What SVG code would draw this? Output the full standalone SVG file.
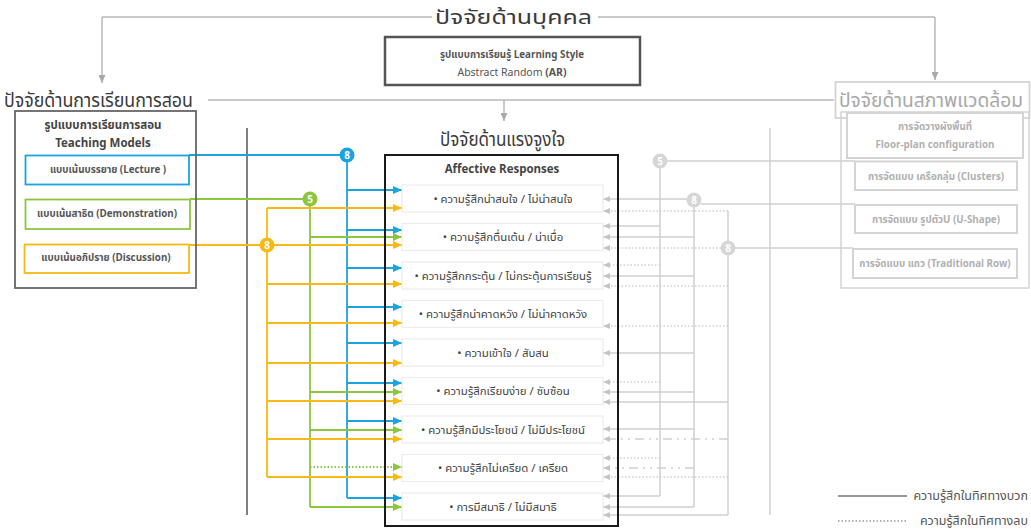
<svg xmlns="http://www.w3.org/2000/svg" width="1031" height="529" viewBox="0 0 1031 529">
<style>
text{font-family:"Noto Sans Thai","Noto Sans","DejaVu Sans",sans-serif}
.h1{font-size:19px;fill:#3a3a3a}
.h1g{font-size:19px;fill:#a8a8a8}
.b{font-size:11.5px;font-weight:bold;fill:#444}
.s{font-size:9.8px;font-weight:bold;fill:#555}
.sg{font-size:9.8px;font-weight:bold;fill:#b0b0b0}
.item{font-size:11.4px;fill:#444}
.leg{font-size:12.5px;fill:#555}
.num{font-size:10px;font-weight:bold;fill:#fff}
.gl{fill:none;stroke:#b8b8b8;stroke-width:1.5}
.lg{fill:none;stroke:#cfcfcf;stroke-width:1.5}
.dot{stroke-dasharray:1.5 2}
.dd{stroke-dasharray:9 5 2 5 2 5}
.blue{fill:none;stroke:#1ba3e0;stroke-width:1.8}
.green{fill:none;stroke:#8cc63f;stroke-width:1.8}
.yel{fill:none;stroke:#f8b912;stroke-width:1.8}
.itembox{fill:#fff;stroke:#ececec;stroke-width:1.2}
</style>
<defs>
<marker id="ab" markerWidth="9" markerHeight="8" refX="9" refY="4" orient="auto" markerUnits="userSpaceOnUse"><path d="M0,0L9,4L0,8z" fill="#1ba3e0"/></marker>
<marker id="ag" markerWidth="9" markerHeight="8" refX="9" refY="4" orient="auto" markerUnits="userSpaceOnUse"><path d="M0,0L9,4L0,8z" fill="#8cc63f"/></marker>
<marker id="ay" markerWidth="9" markerHeight="8" refX="9" refY="4" orient="auto" markerUnits="userSpaceOnUse"><path d="M0,0L9,4L0,8z" fill="#f8b912"/></marker>
<marker id="ar" markerWidth="7" markerHeight="6" refX="7" refY="3" orient="auto" markerUnits="userSpaceOnUse"><path d="M0,0L7,3L0,6z" fill="#c4c4c4"/></marker>
<marker id="ak" markerWidth="8" markerHeight="7" refX="8" refY="3.5" orient="auto" markerUnits="userSpaceOnUse"><path d="M0,0L8,3.5L0,7z" fill="#aaa"/></marker>
</defs>
<rect width="1031" height="529" fill="#fff"/>

<g id="connectors">
  <path class="gl" d="M102,17H432M598,17H935"/>
  <path class="gl" d="M102,17V83" marker-end="url(#ak)"/>
  <path class="gl" d="M935,17V80" marker-end="url(#ak)"/>
  <path class="gl" d="M208,100H834"/>
  <path class="gl" d="M504,100V121" marker-end="url(#ak)"/>
  <path d="M247,128V515" stroke="#555" stroke-width="1.5" fill="none"/>
  <path d="M770,128V515" stroke="#d0d0d0" stroke-width="1.5" fill="none"/>

  <!-- blue -->
  <path class="blue" d="M189,155H340M347,162V498"/>
  <g class="blue">
    <path d="M347,190H402" marker-end="url(#ab)"/>
    <path d="M347,230H402" marker-end="url(#ab)"/>
    <path d="M347,268H402" marker-end="url(#ab)"/>
    <path d="M347,307H402" marker-end="url(#ab)"/>
    <path d="M347,343H402" marker-end="url(#ab)"/>
    <path d="M347,383H402" marker-end="url(#ab)"/>
    <path d="M347,421H402" marker-end="url(#ab)"/>
    <path d="M347,498H402" marker-end="url(#ab)"/>
  </g>
  <!-- green -->
  <path class="green" d="M190,199H303M310,206V507"/>
  <g class="green">
    <path d="M310,237H402" marker-end="url(#ag)"/>
    <path d="M310,392H402" marker-end="url(#ag)"/>
    <path d="M310,430H402" marker-end="url(#ag)"/>
    <path d="M310,467H402" marker-end="url(#ag)" stroke-dasharray="1.5 2"/>
    <path d="M310,507H402" marker-end="url(#ag)"/>
  </g>
  <!-- yellow -->
  <path class="yel" d="M189,245H260M267,208V477"/>
  <g class="yel">
    <path d="M267,208H402" marker-end="url(#ay)"/>
    <path d="M274,245H402" marker-end="url(#ay)"/>
    <path d="M267,284H402" marker-end="url(#ay)"/>
    <path d="M267,323H402" marker-end="url(#ay)"/>
    <path d="M267,363H402" marker-end="url(#ay)"/>
    <path d="M267,401H402" marker-end="url(#ay)"/>
    <path d="M267,439H402" marker-end="url(#ay)"/>
    <path d="M267,477H402" marker-end="url(#ay)"/>
  </g>

  <!-- gray right -->
  <path class="lg" d="M667,161H855M660,168V496"/>
  <path class="lg" d="M701,204H855M694,207V507"/>
  <path class="lg" d="M735,248H853M728,211V515"/>
  <g class="lg">
    <path d="M660,226H603" marker-end="url(#ar)"/>
    <path class="dot" d="M660,265H603" marker-end="url(#ar)"/>
    <path class="dot" d="M660,382H603" marker-end="url(#ar)"/>
    <path class="dot" d="M660,458H603" marker-end="url(#ar)"/>
    <path d="M660,496H603" marker-end="url(#ar)"/>

    <path d="M687,199H603" marker-end="url(#ar)"/>
    <path d="M694,237H603" marker-end="url(#ar)"/>
    <path d="M694,276H603" marker-end="url(#ar)"/>
    <path d="M694,353H603" marker-end="url(#ar)"/>
    <path d="M694,392H603" marker-end="url(#ar)"/>
    <path d="M694,429H603" marker-end="url(#ar)"/>
    <path class="dd" d="M694,468H603" marker-end="url(#ar)"/>
    <path d="M694,507H603" marker-end="url(#ar)"/>

    <path class="dot" d="M728,211H603" marker-end="url(#ar)"/>
    <path class="dot" d="M721,248H603" marker-end="url(#ar)"/>
    <path class="dot" d="M728,286H603" marker-end="url(#ar)"/>
    <path class="dot" d="M728,326H603" marker-end="url(#ar)"/>
    <path d="M728,402H603" marker-end="url(#ar)"/>
    <path class="dd" d="M728,439H603" marker-end="url(#ar)"/>
    <path class="dot" d="M728,477H603" marker-end="url(#ar)"/>
    <path d="M728,515H603" marker-end="url(#ar)"/>
  </g>

  <circle cx="347" cy="155" r="7.5" fill="#1ba3e0"/>
  <text class="num" x="347" y="158.5" text-anchor="middle">8</text>
  <circle cx="310" cy="199" r="7.5" fill="#8cc63f"/>
  <text class="num" x="310" y="202.5" text-anchor="middle">5</text>
  <circle cx="267" cy="245" r="7.5" fill="#f8b912"/>
  <text class="num" x="267" y="248.5" text-anchor="middle">8</text>
  <circle cx="660" cy="161" r="7.5" fill="#d6d6d6"/>
  <text class="num" x="660" y="164.5" text-anchor="middle">5</text>
  <circle cx="694" cy="200" r="7.5" fill="#d6d6d6"/>
  <text class="num" x="694" y="203.5" text-anchor="middle">8</text>
  <circle cx="728" cy="248" r="7.5" fill="#d6d6d6"/>
  <text class="num" x="728" y="251.5" text-anchor="middle">8</text>
</g>

<g id="personal">
  <text class="h1" x="435" y="24" textLength="157" lengthAdjust="spacingAndGlyphs">ปัจจัยด้านบุคคล</text>
</g>
<g id="learning-style">
  <rect x="385" y="37" width="255" height="48" fill="#fff" stroke="#555" stroke-width="2.5"/>
  <text class="s" x="512" y="58" text-anchor="middle" font-size="10.5">รูปแบบการเรียนรู้ Learning Style</text>
  <text x="512" y="76" text-anchor="middle" font-size="10.5" fill="#555">Abstract Random  <tspan font-weight="bold">(AR)</tspan></text>
</g>

<g id="teaching">
  <text class="h1" x="4" y="107" textLength="189" lengthAdjust="spacingAndGlyphs">ปัจจัยด้านการเรียนการสอน</text>
  <rect x="15" y="111" width="181" height="177" fill="none" stroke="#666" stroke-width="1.8"/>
  <text class="b" x="103" y="129" text-anchor="middle">รูปแบบการเรียนการสอน</text>
  <text class="b" x="103" y="147" text-anchor="middle">Teaching Models</text>
</g>
<g id="lecture">
  <rect x="25.5" y="155.5" width="163.5" height="29" fill="none" stroke="#1ba3e0" stroke-width="1.8"/>
  <text class="s" x="108" y="173" text-anchor="middle">แบบเน้นบรรยาย (Lecture )</text>
</g>
<g id="demonstration">
  <rect x="25.5" y="199.5" width="164.5" height="29.5" fill="none" stroke="#8cc63f" stroke-width="1.8"/>
  <text class="s" x="107" y="217" text-anchor="middle">แบบเน้นสาธิต (Demonstration)</text>
</g>
<g id="discussion">
  <rect x="24.5" y="244.5" width="164.5" height="28.5" fill="none" stroke="#f8b912" stroke-width="1.8"/>
  <text class="s" x="106" y="261" text-anchor="middle">แบบเน้นอภิปราย (Discussion)</text>
</g>

<g id="environment">
  <rect x="835.5" y="82" width="194" height="36" fill="#fff" stroke="#d4d4d4" stroke-width="1.8"/>
  <text class="h1g" x="839" y="107" textLength="184" lengthAdjust="spacingAndGlyphs">ปัจจัยด้านสภาพแวดล้อม</text>
  <rect x="841" y="112" width="188" height="176" fill="none" stroke="#d4d4d4" stroke-width="1.5"/>
  <rect x="847" y="113" width="176" height="45" fill="#fff" stroke="#d4d4d4" stroke-width="2"/>
  <text class="sg" x="935" y="130" text-anchor="middle">การจัดวางผังพื้นที่</text>
  <text class="sg" x="935" y="148" text-anchor="middle">Floor-plan configuration</text>
</g>
<g id="clusters">
  <rect x="855" y="161.5" width="162" height="28.5" fill="#fff" stroke="#d4d4d4" stroke-width="2"/>
  <text class="sg" x="936" y="179.5" text-anchor="middle">การจัดแบบ เครือกลุ่ม (Clusters)</text>
</g>
<g id="ushape">
  <rect x="855" y="205" width="162" height="28" fill="#fff" stroke="#d4d4d4" stroke-width="2"/>
  <text class="sg" x="936" y="223" text-anchor="middle">การจัดแบบ รูปตัวU (U-Shape)</text>
</g>
<g id="row">
  <rect x="853" y="249" width="164" height="29" fill="#fff" stroke="#d4d4d4" stroke-width="2"/>
  <text class="sg" x="935" y="267" text-anchor="middle">การจัดแบบ แถว (Traditional Row)</text>
</g>

<g id="motivation">
  <text class="h1" x="440" y="146" textLength="125" lengthAdjust="spacingAndGlyphs">ปัจจัยด้านแรงจูงใจ</text>
  <rect x="385" y="155" width="233" height="371" fill="none" stroke="#1a1a1a" stroke-width="2"/>
  <text class="b" x="502" y="173" text-anchor="middle" fill="#555">Affective Responses</text>
</g>
<g id="item1"><rect class="itembox" x="402" y="185" width="201" height="27"/><text class="item" x="503" y="202.5" text-anchor="middle">• ความรู้สึกน่าสนใจ / ไม่น่าสนใจ</text></g>
<g id="item2"><rect class="itembox" x="402" y="223.5" width="201" height="27"/><text class="item" x="503" y="241" text-anchor="middle">• ความรู้สึกตื่นเต้น / น่าเบื่อ</text></g>
<g id="item3"><rect class="itembox" x="402" y="262" width="201" height="27"/><text class="item" x="503" y="279.5" text-anchor="middle">• ความรู้สึกกระตุ้น / ไม่กระตุ้นการเรียนรู้</text></g>
<g id="item4"><rect class="itembox" x="402" y="300.5" width="201" height="27"/><text class="item" x="503" y="318" text-anchor="middle">• ความรู้สึกน่าคาดหวัง / ไม่น่าคาดหวัง</text></g>
<g id="item5"><rect class="itembox" x="402" y="339" width="201" height="27"/><text class="item" x="503" y="356.5" text-anchor="middle">• ความเข้าใจ / สับสน</text></g>
<g id="item6"><rect class="itembox" x="402" y="377.5" width="201" height="27"/><text class="item" x="503" y="395" text-anchor="middle">• ความรู้สึกเรียบง่าย / ซับซ้อน</text></g>
<g id="item7"><rect class="itembox" x="402" y="416" width="201" height="27"/><text class="item" x="503" y="433.5" text-anchor="middle">• ความรู้สึกมีประโยชน์ / ไม่มีประโยชน์</text></g>
<g id="item8"><rect class="itembox" x="402" y="454.5" width="201" height="27"/><text class="item" x="503" y="472" text-anchor="middle">• ความรู้สึกไม่เครียด / เครียด</text></g>
<g id="item9"><rect class="itembox" x="402" y="493" width="201" height="27"/><text class="item" x="503" y="510.5" text-anchor="middle">• การมีสมาธิ / ไม่มีสมาธิ</text></g>

<g id="legend">
  <path d="M838,496H907" stroke="#777" stroke-width="1.5"/>
  <text class="leg" x="1028" y="500" text-anchor="end">ความรู้สึกในทิศทางบวก</text>
  <path d="M838,521H907" stroke="#999" stroke-width="1.3" stroke-dasharray="1.5 2"/>
  <text class="leg" x="1028" y="525" text-anchor="end">ความรู้สึกในทิศทางลบ</text>
</g>
</svg>
